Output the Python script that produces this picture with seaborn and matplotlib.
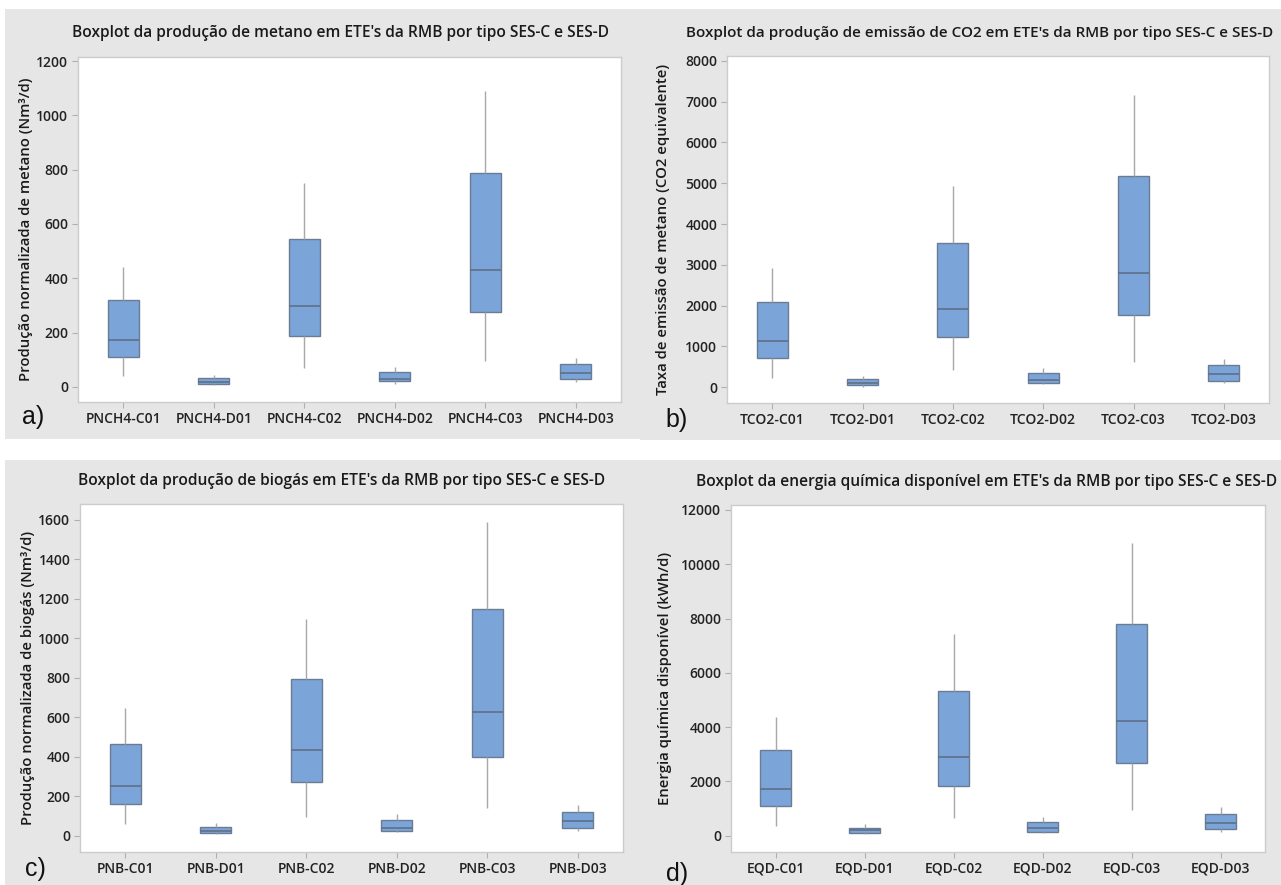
import matplotlib
matplotlib.use("Agg")
import matplotlib.pyplot as plt
from matplotlib.patches import Rectangle
import pandas as pd
import seaborn as sns

# Five-number summaries per station type: [min, Q1, median, Q3, max]
metano_cats = ["PNCH4-C01", "PNCH4-D01", "PNCH4-C02", "PNCH4-D02", "PNCH4-C03", "PNCH4-D03"]
metano_stats = [
    [39, 111, 174, 319, 442],
    [5, 10, 18, 33, 45],
    [68, 187, 297, 543, 752],
    [12, 20, 29, 55, 74],
    [96, 274, 429, 789, 1091],
    [18, 27, 49, 84, 106],
]

co2_cats = ["TCO2-C01", "TCO2-D01", "TCO2-C02", "TCO2-D02", "TCO2-C03", "TCO2-D03"]
co2_stats = [
    [237, 711, 1128, 2084, 2917],
    [16, 57, 114, 196, 278],
    [425, 1226, 1929, 3547, 4936],
    [74, 106, 180, 343, 466],
    [613, 1781, 2811, 5173, 7167],
    [106, 163, 327, 539, 686],
]

biogas_cats = ["PNB-C01", "PNB-D01", "PNB-C02", "PNB-D02", "PNB-C03", "PNB-D03"]
biogas_stats = [
    [57, 160, 253, 465, 645],
    [8, 14, 24, 46, 63],
    [96, 274, 433, 792, 1098],
    [17, 25, 41, 78, 108],
    [142, 399, 625, 1149, 1592],
    [25, 39, 74, 122, 155],
]

energia_cats = ["EQD-C01", "EQD-D01", "EQD-C02", "EQD-D02", "EQD-C03", "EQD-D03"]
energia_stats = [
    [368, 1093, 1707, 3156, 4384],
    [49, 86, 209, 295, 418],
    [639, 1842, 2910, 5342, 7442],
    [98, 147, 270, 503, 700],
    [946, 2689, 4237, 7786, 10770],
    [147, 246, 479, 810, 1044],
]

titles = [
    "Boxplot da produção de metano em ETE's da RMB por tipo SES-C e SES-D",
    "Boxplot da produção de emissão de CO2 em ETE's da RMB por tipo SES-C e SES-D",
    "Boxplot da produção de biogás em ETE's da RMB por tipo SES-C e SES-D",
    "Boxplot da energia química disponível em ETE's da RMB por tipo SES-C e SES-D",
]
ylabels = [
    "Produção normalizada de metano (Nm³/d)",
    "Taxa de emissão de metano (CO2 equivalente)",
    "Produção normalizada de biogás (Nm³/d)",
    "Energia química disponível (kWh/d)",
]
yticks = [
    list(range(0, 1201, 200)),
    list(range(0, 8001, 1000)),
    list(range(0, 1601, 200)),
    list(range(0, 12001, 2000)),
]
ylims = [(-56, 1215), (-385, 8120), (-83, 1681), (-600, 12184)]
letters = ["a)", "b)", "c)", "d)"]

W, H = 1281, 885
sns.set_theme(style="white")
plt.rcParams["font.family"] = ["Open Sans", "DejaVu Sans"]

fig = plt.figure(figsize=(W / 100, H / 100), dpi=100)
fig.patch.set_facecolor("white")

def px_rect(x0, y0, x1, y1):
    return [x0 / W, 1 - y1 / H, (x1 - x0) / W, (y1 - y0) / H]

# grey panel backgrounds
panels = [(5, 9, 640, 439), (640, 9, 1281, 440), (5, 460, 640, 885), (640, 460, 1281, 885)]
for (x0, y0, x1, y1) in panels:
    r = px_rect(x0, y0, x1, y1)
    fig.patches.append(Rectangle((r[0], r[1]), r[2], r[3], transform=fig.transFigure,
                                 facecolor="#e6e6e6", edgecolor="none", zorder=-10))

axes_px = [(78, 57, 621, 402), (727, 56, 1269, 403), (80, 504, 623, 852), (731, 505, 1265, 852)]
title_pos = [(72, 33, 11.2), (686, 33, 11.0), (78, 481, 11.2), (696, 482, 11.2)]
ylabel_x = [26, 663, 28, 665]
letter_pos = [(22, 417), (665, 420), (25, 869), (666, 874)]

datasets = [
    (metano_cats, metano_stats),
    (co2_cats, co2_stats),
    (biogas_cats, biogas_stats),
    (energia_cats, energia_stats),
]

box_fill = "#7ba5d8"
box_edge = "#6b7c92"

for i, (cats, stats) in enumerate(datasets):
    rows = [(c, v) for c, s in zip(cats, stats) for v in s]
    df = pd.DataFrame(rows, columns=["grupo", "valor"])
    ax = fig.add_axes(px_rect(*axes_px[i]))
    ax.set_facecolor("white")
    sns.boxplot(
        data=df, x="grupo", y="valor", order=cats, ax=ax,
        whis=(0, 100), width=0.34, color=box_fill, saturation=1,
        linecolor=box_edge, linewidth=1.0, showcaps=False, fliersize=0,
        whiskerprops={"color": "#a8a8a8", "linewidth": 1.0},
        medianprops={"color": "#5d7088", "linewidth": 1.2},
    )
    ax.set_xlim(-0.5, len(cats) - 0.5)
    ax.set_ylim(*ylims[i])
    ax.set_yticks(yticks[i])
    ax.set_yticklabels([str(t) for t in yticks[i]])
    ax.set_xlabel("")
    ax.set_ylabel("")
    for sp in ax.spines.values():
        sp.set_color("#cccccc")
        sp.set_linewidth(1.0)
    ax.tick_params(axis="both", which="major", direction="out", length=4, width=0.8,
                   color="#b0b0b0", labelsize=10, labelcolor="#222222", pad=3,
                   bottom=True, left=True)
    for lab in ax.get_xticklabels() + ax.get_yticklabels():
        lab.set_fontweight("semibold")

    tx, ty, tsize = title_pos[i]
    fig.text(tx / W, 1 - ty / H, titles[i], ha="left", va="center",
             fontsize=tsize, fontweight="semibold", color="#1a1a1a")
    y0, y1 = axes_px[i][1], axes_px[i][3]
    fig.text(ylabel_x[i] / W, 1 - ((y0 + y1) / 2) / H, ylabels[i], rotation=90,
             ha="center", va="center", fontsize=10.7, fontweight="semibold", color="#1a1a1a")
    lx, ly = letter_pos[i]
    fig.text(lx / W, 1 - ly / H, letters[i], ha="left", va="center",
             fontsize=18, family=["Liberation Sans", "DejaVu Sans"], color="#111111")

fig.savefig("out.png", dpi=100, facecolor="white")
